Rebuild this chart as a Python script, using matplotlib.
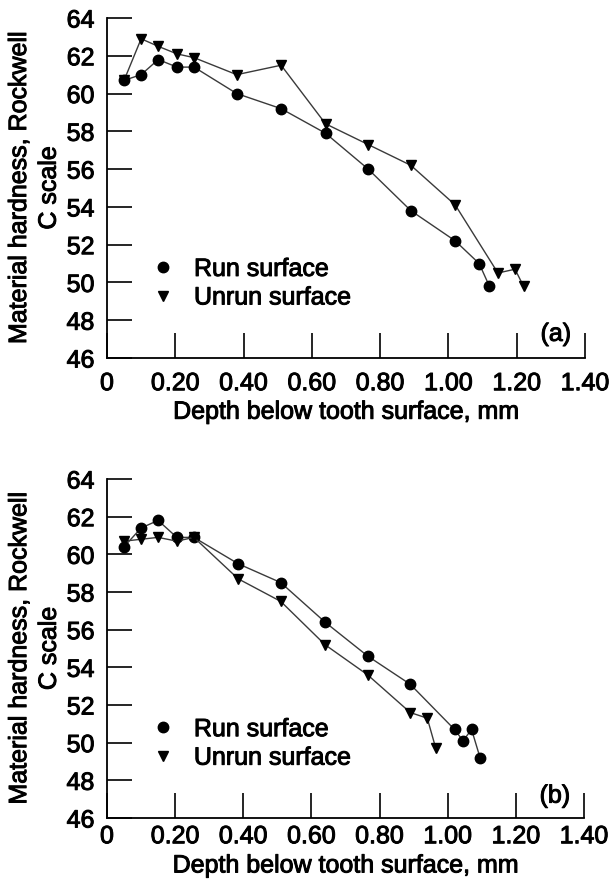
import matplotlib
matplotlib.use("Agg")
import matplotlib.pyplot as plt
import matplotlib.patheffects as pe
from matplotlib.lines import Line2D

plt.rcParams['font.family'] = ['Liberation Sans', 'DejaVu Sans']

# Panel (a)
a_run_x = [0.05, 0.10, 0.15, 0.205, 0.255, 0.38, 0.51, 0.64, 0.765, 0.89, 1.02, 1.09, 1.12]
a_run_y = [60.7, 61.0, 61.8, 61.4, 61.4, 60.0, 59.2, 57.9, 56.0, 53.8, 52.2, 51.0, 49.8]
a_unrun_x = [0.05, 0.10, 0.15, 0.205, 0.255, 0.38, 0.51, 0.64, 0.765, 0.89, 1.02, 1.145, 1.195, 1.22]
a_unrun_y = [60.7, 62.9, 62.5, 62.1, 61.9, 61.0, 61.5, 58.4, 57.3, 56.2, 54.1, 50.5, 50.7, 49.8]

# Panel (b)
b_run_x = [0.05, 0.10, 0.15, 0.205, 0.255, 0.385, 0.51, 0.64, 0.765, 0.89, 1.02, 1.045, 1.07, 1.095]
b_run_y = [60.4, 61.4, 61.8, 60.9, 60.9, 59.5, 58.5, 56.4, 54.6, 53.1, 50.7, 50.1, 50.7, 49.2]
b_unrun_x = [0.05, 0.10, 0.15, 0.205, 0.255, 0.385, 0.51, 0.64, 0.765, 0.89, 0.94, 0.965]
b_unrun_y = [60.7, 60.8, 60.9, 60.7, 60.9, 58.7, 57.5, 55.2, 53.6, 51.6, 51.3, 49.7]

xticks = [0, 0.20, 0.40, 0.60, 0.80, 1.00, 1.20, 1.40]
xticklabels = ['0', '0.20', '0.40', '0.60', '0.80', '1.00', '1.20', '1.40']
yticks = [46, 48, 50, 52, 54, 56, 58, 60, 62, 64]
series_labels = ['Run surface', 'Unrun surface']
panel_tags = ['(a)', '(b)']
xlabel = 'Depth below tooth surface, mm'
ylabel = 'Material hardness, Rockwell\nC scale'

FS = 18
W, H = 609, 881
fig = plt.figure(figsize=(W / 100, H / 100), dpi=100)
bold = [pe.withStroke(linewidth=0.7, foreground='black')]

def px_axes(left, top, right, bottom):
    return fig.add_axes([left / W, 1 - bottom / H, (right - left) / W, (bottom - top) / H])

ax_a = px_axes(107, 18, 585, 358)
ax_b = px_axes(107, 479, 584, 818)

panels = [
    (ax_a, a_run_x, a_run_y, a_unrun_x, a_unrun_y, 9.5, -0.158, 0.071),
    (ax_b, b_run_x, b_run_y, b_unrun_x, b_unrun_y, 4.5, -0.14, 0.066),
]

for i, (ax, rx, ry, ux, uy, xpad, xlab_y, tag_y) in enumerate(panels):
    ax.plot(rx, ry, color='#3a3a3a', lw=1.0, marker='o', ms=7.5,
            mfc='black', mec='black', zorder=3)
    ax.plot(ux, uy, color='#3a3a3a', lw=1.0, marker='v', ms=7.5,
            mfc='black', mec='black', zorder=3)
    ax.set_xlim(0, 1.40)
    ax.set_ylim(46, 64)
    ax.set_xticks(xticks)
    ax.set_xticklabels(xticklabels)
    ax.set_yticks(yticks)
    for s in ['top', 'right']:
        ax.spines[s].set_visible(False)
    for s in ['left', 'bottom']:
        ax.spines[s].set_linewidth(1.3)
    ax.tick_params(axis='both', direction='in', length=18, width=1.2,
                   labelsize=FS, colors='black')
    ax.tick_params(axis='x', pad=xpad)
    ax.tick_params(axis='y', pad=9)
    for lab in ax.get_xticklabels() + ax.get_yticklabels():
        lab.set_path_effects(bold)
    ax.set_xlabel(xlabel, fontsize=FS, path_effects=bold)
    ax.xaxis.set_label_coords(0.5, xlab_y)
    ax.xaxis.label.set_va('center')
    ax.set_ylabel(ylabel, fontsize=FS, linespacing=1.3, path_effects=bold)
    ax.yaxis.label.set_va('center')
    ax.yaxis.set_label_coords(-0.153, 0.5)
    ax.text(0.939, tag_y, panel_tags[i], transform=ax.transAxes,
            fontsize=FS, ha='center', va='center', path_effects=bold)
    handles = [
        Line2D([], [], ls='none', marker='o', ms=7.5, mfc='black', mec='black'),
        Line2D([], [], ls='none', marker='v', ms=7.5, mfc='black', mec='black'),
    ]
    leg = ax.legend(handles, series_labels, loc='center left',
                    bbox_to_anchor=(0.092, 0.22), frameon=False, fontsize=FS,
                    handlelength=1.0, handletextpad=0.72, labelspacing=0.18,
                    borderpad=0, borderaxespad=0)
    for t in leg.get_texts():
        t.set_path_effects(bold)

fig.savefig('out.png', dpi=100)
